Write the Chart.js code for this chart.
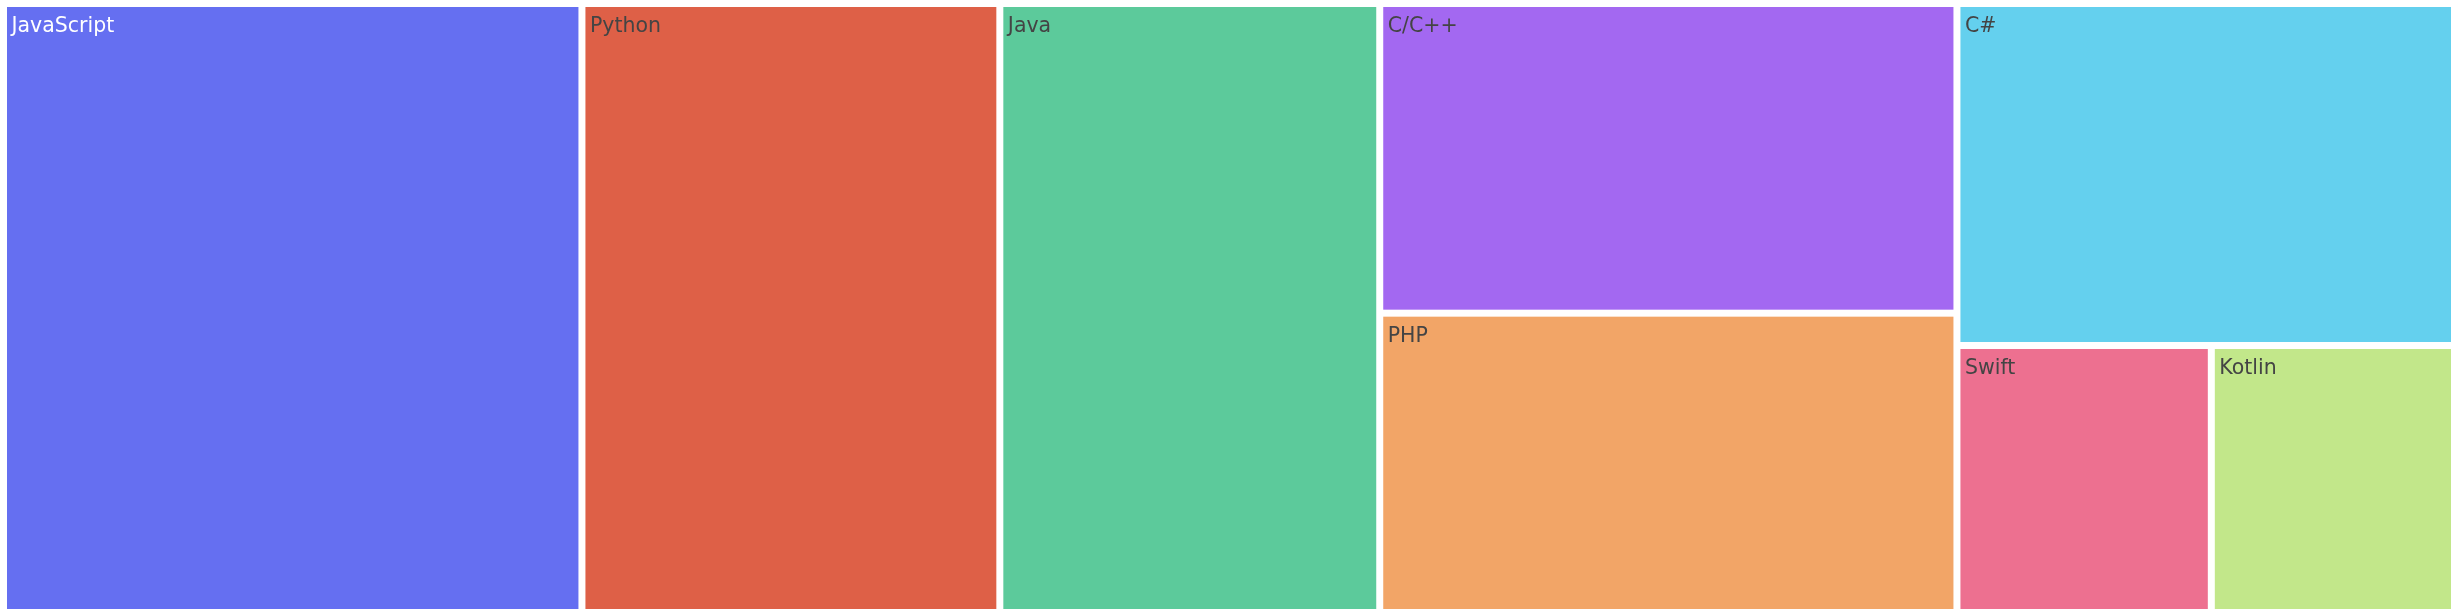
<!DOCTYPE html>
<html>
<head>
<meta charset="utf-8">
<script src="https://cdn.jsdelivr.net/npm/chart.js@4.4.1/dist/chart.umd.min.js"></script>
<style>
  html, body { margin: 0; padding: 0; background: #fff; }
  canvas { display: block; }
</style>
</head>
<body>
<canvas id="treemap" width="2458" height="616"></canvas>
<script>
// language share (%)
const languages = ['JavaScript', 'Python', 'Java', 'C/C++', 'PHP', 'C#', 'Swift', 'Kotlin'];
const shares = [23.6, 17.05, 15.5, 11.975, 11.575, 11.4, 4.55, 4.35];
const tileColors = ['#656ff1', '#de6047', '#5cca9b', '#a368f1', '#f2a567', '#64d0ee', '#ed7090', '#c2e78a'];
const labelColors = ['#ffffff', '#444444', '#444444', '#444444', '#444444', '#444444', '#444444', '#444444'];

const PAD = 3.5;
const PLOT_W = 2458 - 2 * PAD;
const PLOT_H = 616 - 2 * PAD;

// d3-style squarify, ratio 1
function squarify(values, x0, y0, x1, y1) {
    const rects = [];
    let total = values.reduce((a, b) => a + b, 0);
    let i0 = 0, i1 = 0;
    const n = values.length;
    while (i0 < n) {
        const dx = x1 - x0, dy = y1 - y0;
        let sum = values[i1++];
        let minV = sum, maxV = sum;
        const alpha = Math.max(dy / dx, dx / dy) / total;
        let beta = sum * sum * alpha;
        let minRatio = Math.max(maxV / beta, beta / minV);
        for (; i1 < n; ++i1) {
            const v = values[i1];
            sum += v;
            if (v < minV) minV = v;
            if (v > maxV) maxV = v;
            beta = sum * sum * alpha;
            const r = Math.max(maxV / beta, beta / minV);
            if (r > minRatio) { sum -= v; break; }
            minRatio = r;
        }
        if (dx < dy) {
            // row across the top
            const h = dy * sum / total;
            let x = x0;
            for (let i = i0; i < i1; i++) {
                const w = dx * values[i] / sum;
                rects[i] = { x0: x, y0: y0, x1: x + w, y1: y0 + h };
                x += w;
            }
            y0 += h;
        } else {
            // column on the left
            const w = dx * sum / total;
            let y = y0;
            for (let i = i0; i < i1; i++) {
                const h = dy * values[i] / sum;
                rects[i] = { x0: x0, y0: y, x1: x0 + w, y1: y + h };
                y += h;
            }
            x0 += w;
        }
        total -= sum;
        i0 = i1;
    }
    return rects;
}

const tiles = squarify(shares, 0, 0, PLOT_W, PLOT_H);

const treemapPlugin = {
    id: 'treemapTiles',
    afterDatasetsDraw(chart) {
        const { ctx, scales } = chart;
        const inset = 3.5;
        ctx.save();
        tiles.forEach((t, i) => {
            const left = scales.x.getPixelForValue(t.x0) + inset;
            const right = scales.x.getPixelForValue(t.x1) - inset;
            const top = scales.y.getPixelForValue(t.y0) + inset;
            const bottom = scales.y.getPixelForValue(t.y1) - inset;
            ctx.fillStyle = tileColors[i];
            ctx.fillRect(left, top, right - left, bottom - top);

            ctx.fillStyle = labelColors[i];
            ctx.font = '20.5px "DejaVu Sans", Verdana, sans-serif';
            ctx.textAlign = 'left';
            ctx.textBaseline = 'alphabetic';
            ctx.fillText(languages[i], left + 4.5, top + 25);
        });
        ctx.restore();
    }
};

new Chart(document.getElementById('treemap'), {
    type: 'scatter',
    data: { datasets: [{ data: [] }] },
    options: {
        responsive: false,
        animation: false,
        layout: { padding: PAD },
        plugins: { legend: { display: false }, tooltip: { enabled: false } },
        scales: {
            x: { type: 'linear', min: 0, max: PLOT_W, display: false },
            y: { type: 'linear', min: 0, max: PLOT_H, reverse: true, display: false }
        }
    },
    plugins: [treemapPlugin]
});
</script>
</body>
</html>
